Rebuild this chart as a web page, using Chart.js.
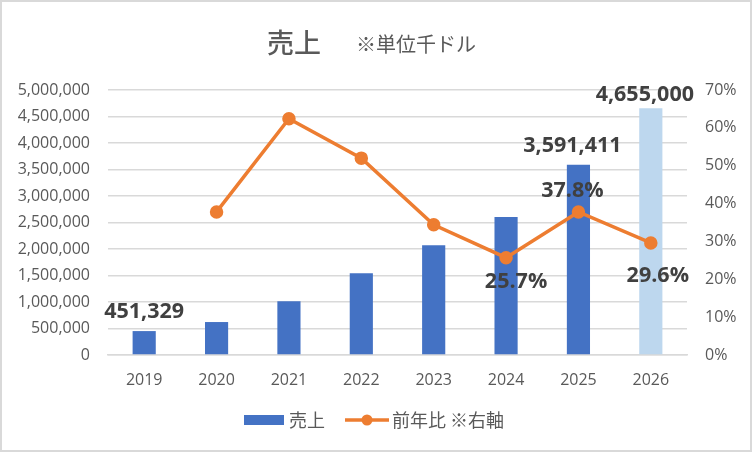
<!DOCTYPE html>
<html>
<head>
<meta charset="utf-8">
<script src="https://cdn.jsdelivr.net/npm/chart.js@4/dist/chart.umd.min.js"></script>
<style>
  html, body { margin: 0; padding: 0; background: #fff; }
  #wrap { width: 752px; height: 452px; }
</style>
</head>
<body>
<div id="wrap"><canvas id="chart" width="752" height="452"></canvas></div>
<script>
const years = ['2019', '2020', '2021', '2022', '2023', '2024', '2025', '2026'];
const sales = [451329, 621931, 1013000, 1544000, 2073000, 2606000, 3591411, 4655000];
const growth = [null, 37.8, 62.4, 52.0, 34.4, 25.7, 37.8, 29.6];
const salesLabels = ['451,329', '', '', '', '', '', '3,591,411', '4,655,000'];
const growthLabels = ['', '', '', '', '', '25.7%', '37.8%', '29.6%'];
const barColors = ['#4472C4', '#4472C4', '#4472C4', '#4472C4', '#4472C4', '#4472C4', '#4472C4', '#BDD7EE'];

const NUM_FONT = '"Open Sans", "Noto Sans CJK JP", sans-serif';
const JP_FONT = '"Noto Sans CJK JP", sans-serif';

// label nudges [dx, baseline dy] relative to the element
const salesOffsets = [[0, -13], null, null, null, null, null, [-6, -13], [-6, -7]];
const growthOffsets = [null, null, null, null, null, [10, 30], [-6, -15], [7, 39]];

// legend icons: wide transparent canvas so the gaps come out like the original
function makeIcon(kind) {
  const c = document.createElement('canvas');
  c.width = 72; c.height = 14;
  const g = c.getContext('2d');
  if (kind === 'bar') {
    g.fillStyle = '#4472C4';
    g.fillRect(24, 2, 40, 10);
  } else {
    g.strokeStyle = '#ED7D31';
    g.lineWidth = 3.5;
    g.beginPath(); g.moveTo(22, 7); g.lineTo(66, 7); g.stroke();
    g.fillStyle = '#ED7D31';
    g.beginPath(); g.arc(44, 7, 5.5, 0, Math.PI * 2); g.fill();
  }
  return c;
}
const icons = [makeIcon('bar'), makeIcon('line')];

const decor = {
  id: 'decor',
  beforeDraw(chart) {
    const ctx = chart.ctx;
    ctx.save();
    ctx.fillStyle = '#fff';
    ctx.fillRect(0, 0, chart.width, chart.height);
    ctx.strokeStyle = '#d9d9d9';
    ctx.lineWidth = 2;
    ctx.strokeRect(1, 1, chart.width - 2, chart.height - 2);
    ctx.restore();
  },
  afterDraw(chart) {
    const ctx = chart.ctx;
    ctx.save();
    // title
    ctx.fillStyle = '#595959';
    ctx.textBaseline = 'alphabetic';
    ctx.textAlign = 'left';
    ctx.font = '500 27px ' + JP_FONT;
    ctx.fillText('売上', 267, 53);
    ctx.font = '20px ' + JP_FONT;
    ctx.fillText('※単位千ドル', 356, 52);

    // data labels
    ctx.fillStyle = '#404040';
    ctx.font = 'bold 21.5px ' + NUM_FONT;
    ctx.textAlign = 'center';
    ctx.textBaseline = 'alphabetic';
    chart.getDatasetMeta(0).data.forEach((el, i) => {
      const o = salesOffsets[i];
      if (!salesLabels[i] || !o) return;
      ctx.fillText(salesLabels[i], el.x + o[0], el.y + o[1]);
    });
    chart.getDatasetMeta(1).data.forEach((el, i) => {
      const o = growthOffsets[i];
      if (!growthLabels[i] || !o) return;
      ctx.fillText(growthLabels[i], el.x + o[0], el.y + o[1]);
    });
    ctx.restore();
  }
};

new Chart(document.getElementById('chart'), {
  data: {
    labels: years,
    datasets: [
      {
        type: 'bar',
        label: '売上',
        data: sales,
        backgroundColor: barColors,
        yAxisID: 'y',
        barPercentage: 0.64,
        categoryPercentage: 0.5,
        order: 2
      },
      {
        type: 'line',
        label: '前年比 ※右軸',
        data: growth,
        borderColor: '#ED7D31',
        backgroundColor: '#ED7D31',
        borderWidth: 3.5,
        pointRadius: 5,
        pointHoverRadius: 5,
        tension: 0,
        yAxisID: 'y1',
        order: 1
      }
    ]
  },
  options: {
    responsive: false,
    animation: false,
    devicePixelRatio: 1,
    layout: { padding: { top: 90, left: 0, right: 16, bottom: 13 } },
    plugins: {
      title: { display: false },
      tooltip: { enabled: false },
      legend: {
        position: 'bottom',
        labels: {
          usePointStyle: true,
          pointStyleWidth: 48,
          font: { family: JP_FONT, size: 18 },
          color: '#595959',
          padding: 10,
          generateLabels: (chart) => chart.data.datasets.map((ds, i) => ({
            text: ds.label,
            pointStyle: icons[i],
            fillStyle: ds.backgroundColor,
            strokeStyle: 'transparent',
            lineWidth: 0,
            datasetIndex: i,
            fontColor: '#595959'
          }))
        }
      }
    },
    scales: {
      x: {
        grid: { display: false, drawTicks: false },
        border: { display: true, color: '#d9d9d9', width: 1.5 },
        ticks: { font: { family: NUM_FONT, size: 16 }, color: '#595959', padding: 16 },
        afterFit: (s) => { s.height = 46; }
      },
      y: {
        position: 'left',
        min: 0,
        max: 5000000,
        ticks: {
          stepSize: 500000,
          font: { family: NUM_FONT, size: 16 },
          color: '#595959',
          padding: 18,
          callback: (v) => v.toLocaleString('en-US')
        },
        grid: { color: '#d9d9d9', lineWidth: 1.5, drawTicks: false },
        border: { display: false },
        afterFit: (s) => { s.width = 108; }
      },
      y1: {
        position: 'right',
        min: 0,
        max: 70,
        ticks: {
          stepSize: 10,
          font: { family: NUM_FONT, size: 16 },
          color: '#595959',
          padding: 18,
          callback: (v) => v + '%'
        },
        grid: { display: false, drawTicks: false },
        border: { display: false },
        afterFit: (s) => { s.width = 49; }
      }
    }
  },
  plugins: [decor]
});
</script>
</body>
</html>
